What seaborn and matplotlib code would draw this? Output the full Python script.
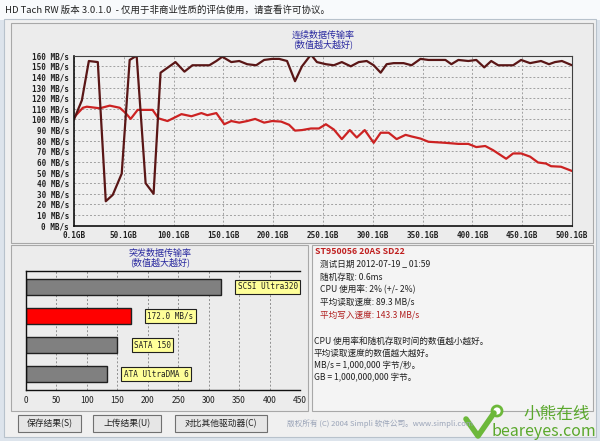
import matplotlib
matplotlib.use("Agg")
import matplotlib.pyplot as plt
import pandas as pd
import seaborn as sns
from matplotlib.patches import Rectangle, Circle

# 连续传输率曲线 (GB, MB/s)
write_gb = [0.1, 8, 15, 24, 32, 39, 48, 56, 63, 72, 80, 87, 102, 111, 119, 136, 143, 149,
            158, 166, 174, 183, 191, 199, 206, 214, 222, 229, 238, 244, 253, 261, 269, 278,
            286, 294, 301, 308, 314, 321, 331, 339, 348, 356, 373, 379, 386, 396, 404, 412,
            419, 426, 441, 449, 458, 469, 477, 483, 490, 500.1]
write_mbs = [100, 118, 155, 154, 23, 29, 49, 156, 160, 40, 30, 144, 154, 145, 151, 151, 155, 159,
             154, 155, 152, 151, 156, 157, 157, 155, 136, 150, 161, 154, 152, 151, 154, 150,
             154, 155, 151, 144, 152, 153, 153, 151, 157, 156, 156, 152, 156, 155, 156, 149,
             155, 151, 151, 156, 153, 155, 152, 154, 155, 151]

read_gb = [0.1, 9, 13, 26, 36, 46, 52, 57, 64, 79, 85, 94, 108, 118, 128, 134, 143, 151, 158,
           166, 174, 182, 191, 199, 208, 216, 222, 229, 238, 246, 253, 261, 269, 277, 284, 292,
           301, 308, 316, 324, 333, 339, 348, 356, 373, 386, 396, 404, 413, 421, 434, 441, 449,
           458, 466, 474, 479, 489, 500.1]
read_mbs = [102, 111, 112, 110.5, 113, 111, 106, 100.5, 109, 109, 101, 98.5, 105, 103, 106, 104,
            106, 95.5, 98.5, 97, 98.5, 100.5, 97, 98.5, 98, 95, 89.5, 90, 91.5, 91.5, 95.5, 90.5,
            81.5, 90, 83, 90, 78, 87.5, 87.5, 81.5, 85.5, 84, 82, 79, 78, 77, 77, 74, 75, 71, 63,
            68, 68, 65, 59.5, 58.5, 56, 55.5, 51.5]

x_ticks = [0.1 + 50 * i for i in range(11)]
x_labels = [f"{v:.1f}GB" for v in x_ticks]
y_ticks = list(range(0, 161, 10))
y_labels = [f"{v} MB/s" for v in y_ticks]

# 突发传输率
burst_keys = ["scsi", "drive", "sata", "ata"]
burst_vals = [320, 172, 150, 133]
burst_labels = ["SCSI Ultra320", "172.0 MB/s", "SATA 150", "ATA UltraDMA 6"]
burst_colors = ["#808080", "#ff0000", "#808080", "#808080"]

info_lines = [
    ("测试日期 2012-07-19 _ 01:59", "#202020"),
    ("随机存取: 0.6ms", "#202020"),
    ("CPU 使用率: 2% (+/- 2%)", "#202020"),
    ("平均读取速度: 89.3 MB/s", "#202020"),
    ("平均写入速度: 143.3 MB/s", "#b02020"),
]
note_lines = [
    "CPU 使用率和随机存取时间的数值越小越好。",
    "平均读取速度的数值越大越好。",
    "MB/s = 1,000,000 字节/秒。",
    "GB = 1,000,000,000 字节。",
]
buttons = [("保存结果(S)", 18, 81), ("上传结果(U)", 93, 161), ("对比其他驱动器(C)", 175, 267)]

W, H = 600, 441
sns.set_style("white")
plt.rcParams['font.family'] = ['Noto Sans CJK SC', 'DejaVu Sans']
MONO = ['DejaVu Sans Mono', 'Noto Sans CJK SC']


def box(x0, y0, x1, y1):
    return [x0 / W, 1 - y1 / H, (x1 - x0) / W, (y1 - y0) / H]


fig = plt.figure(figsize=(6, 4.41), dpi=100)
fig.patch.set_facecolor("#dde4ec")

bg = fig.add_axes([0, 0, 1, 1])
bg.set_xlim(0, W)
bg.set_ylim(H, 0)
bg.axis("off")

# 窗口
bg.add_patch(Rectangle((0, 0), W, 20, fc="#f8fafc", ec="none"))
bg.add_patch(Rectangle((4, 19), 592, 418, fc="#f0f0f0", ec="#b8c2cc", lw=0.8))
bg.text(5, 10, "HD Tach RW 版本 3.0.1.0  - 仅用于非商业性质的评估使用，请查看许可协议。",
        fontsize=6.8, va="center", ha="left", color="#202020")

# 面板
bg.add_patch(Rectangle((11, 23), 582, 220, fc="#ececec", ec="#a8a8a8", lw=0.8))
bg.add_patch(Rectangle((11, 245), 297, 166, fc="#ececec", ec="#a8a8a8", lw=0.8))
bg.add_patch(Rectangle((312, 245), 281, 166, fc="#f4f4f4", ec="#a8a8a8", lw=0.8))

bg.text(323, 35, "连续数据传输率", fontsize=6.5, ha="center", va="center", color="#2a2aa0")
bg.text(323, 44, "(数值越大越好)", fontsize=6.5, ha="center", va="center", color="#2a2aa0")
bg.text(160, 253, "突发数据传输率", fontsize=6.5, ha="center", va="center", color="#2a2aa0")
bg.text(160, 262, "(数值越大越好)", fontsize=6.5, ha="center", va="center", color="#2a2aa0")

# 信息
bg.text(315, 251, "ST950056 20AS SD22", fontsize=6.3, fontweight="bold", color="#c02020",
        ha="left", va="center")
for i, (txt, col) in enumerate(info_lines):
    bg.text(320, 264.3 + i * 12.7, txt, fontsize=6.2, color=col, ha="left", va="center")
for i, txt in enumerate(note_lines):
    bg.text(314, 341 + i * 12.4, txt, fontsize=6.2, color="#202020", ha="left", va="center")

# 按钮
for txt, x0, x1 in buttons:
    bg.add_patch(Rectangle((x0, 415), x1 - x0, 17, fc="#e6e6e6", ec="#707070", lw=0.8))
    bg.text((x0 + x1) / 2, 423.5, txt, fontsize=6.3, ha="center", va="center", color="#202020")
bg.text(287, 423.5, "版权所有 (C) 2004 Simpli 软件公司。www.simpli.com", fontsize=5.5,
        ha="left", va="center", color="#9aa4b8")

# 水印
bg.plot([466, 478, 494], [419, 436, 413], color="#6cb83a", lw=4, solid_capstyle="round")
bg.add_patch(Circle((497, 411), 5, fc="white", ec="#6cb83a", lw=2))
bg.text(590, 414, "小熊在线", fontsize=12, ha="right", va="center", color="#5aa82c")
bg.text(596, 432, "beareyes.com", fontsize=11.5, ha="right", va="center", color="#5aa82c")

# 连续传输率图
ax = fig.add_axes(box(74, 55.7, 572, 225.7))
ax.set_facecolor("#f0f0f0")
df_w = pd.DataFrame({"gb": write_gb, "mbs": write_mbs})
df_r = pd.DataFrame({"gb": read_gb, "mbs": read_mbs})
sns.lineplot(data=df_r, x="gb", y="mbs", ax=ax, color="#cc2222", lw=1.6, estimator=None)
sns.lineplot(data=df_w, x="gb", y="mbs", ax=ax, color="#5a1616", lw=1.6, estimator=None)
ax.set_xlim(0.1, 500.1)
ax.set_ylim(0, 160)
ax.set_xticks(x_ticks)
ax.set_xticklabels(x_labels, family=MONO, fontsize=5.5, fontweight="bold", color="#202020")
ax.set_yticks(y_ticks)
ax.set_yticklabels(y_labels, family=MONO, fontsize=5.5, fontweight="bold", color="#202020")
ax.set_xlabel("")
ax.set_ylabel("")
ax.grid(True, ls=(0, (2, 2)), color="#a0a0a0", lw=0.7)
ax.tick_params(length=2, width=0.8, pad=1.5, direction="out", color="#202020")
for side in ["left", "bottom"]:
    ax.spines[side].set_color("#101010")
    ax.spines[side].set_linewidth(1.2)
for side in ["top", "right"]:
    ax.spines[side].set_color("#404040")
    ax.spines[side].set_linewidth(0.8)

# 突发传输率图
ax2 = fig.add_axes(box(26, 271, 300, 390))
ax2.set_facecolor("#ececec")
sns.barplot(x=burst_vals, y=burst_keys, hue=burst_keys, palette=burst_colors, orient="h",
            ax=ax2, width=0.55, saturation=1, edgecolor="#202020", linewidth=1, legend=False)
ax2.set_xlim(0, 450)
ax2.set_ylim(3.55, -0.55)
ax2.set_xticks(range(0, 451, 50))
ax2.set_xticklabels([str(v) for v in range(0, 451, 50)], fontsize=6, color="#202020")
ax2.set_yticks([])
ax2.set_xlabel("")
ax2.set_ylabel("")
ax2.grid(axis="x", ls=(0, (2, 2)), color="#909090", lw=0.7)
ax2.tick_params(axis="x", length=2, width=0.8, pad=2, color="#202020")
for side in ["left", "bottom", "top"]:
    ax2.spines[side].set_color("#101010")
    ax2.spines[side].set_linewidth(1.0)
ax2.spines["right"].set_visible(False)
for i, (v, lab) in enumerate(zip(burst_vals, burst_labels)):
    ax2.annotate(lab, xy=(v, i), xytext=(12, 0), textcoords="offset points",
                 ha="left", va="center", family=MONO, fontsize=5.5, color="#202020",
                 bbox=dict(boxstyle="square,pad=0.3", fc="#ffff99", ec="#202020", lw=0.8))

fig.savefig("out.png", dpi=100, facecolor=fig.get_facecolor())
